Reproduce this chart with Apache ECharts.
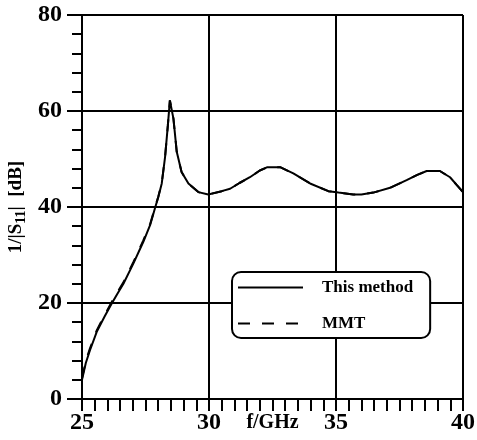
<!DOCTYPE html>
<html>
<head>
<meta charset="utf-8">
<script src="https://cdn.jsdelivr.net/npm/echarts@6/dist/echarts.min.js"></script>
<style>
  html, body { margin: 0; padding: 0; background: #fff; }
  #chart { width: 477px; height: 440px; }
</style>
</head>
<body>
<div id="chart"></div>
<script>
// frequency (GHz)
var freq = [25.0, 25.15, 25.31, 25.58, 25.9, 26.17, 26.4, 26.63, 27.02, 27.41, 27.68, 27.87, 28.0, 28.14,
  28.27, 28.38, 28.46, 28.52, 28.6, 28.73, 28.92, 29.19, 29.58, 29.97, 30.5, 30.83, 31.2, 31.61, 32.0,
  32.3, 32.8, 33.32, 33.98, 34.7, 35.1, 35.68, 36.0, 36.47, 37.13, 37.78, 38.2, 38.57, 39.09, 39.49,
  39.75, 40.0];
// 1/|S11| in dB, this method
var thisMethod = [4.0, 7.5, 10.1, 14.0, 17.3, 19.9, 22.0, 24.0, 28.2, 32.7, 36.2, 39.7, 42.0, 44.9,
  50.4, 57.0, 62.2, 62.2, 58.4, 51.5, 47.3, 44.9, 43.1, 42.6, 43.3, 43.8, 45.0, 46.2, 47.6,
  48.3, 48.3, 47.0, 44.9, 43.3, 43.0, 42.6, 42.6, 43.0, 44.0, 45.6, 46.7, 47.5, 47.5, 46.2,
  44.6, 43.1];
// MMT
var mmt = [4.3, 7.9, 10.5, 14.3, 17.6, 20.2, 22.3, 24.3, 28.5, 33.0, 36.4, 39.8, 42.1, 45.0,
  50.4, 57.0, 62.2, 62.2, 58.4, 51.5, 47.3, 44.9, 43.1, 42.6, 43.3, 43.8, 45.0, 46.2, 47.6,
  48.3, 48.3, 47.0, 44.9, 43.3, 43.0, 42.6, 42.6, 43.0, 44.0, 45.6, 46.7, 47.5, 47.5, 46.2,
  44.6, 43.1];

function pairs(xs, ys) {
  var out = [];
  for (var i = 0; i < xs.length; i++) out.push([xs[i], ys[i]]);
  return out;
}

var serif = "'Liberation Serif', 'DejaVu Serif', serif";
var myChart = echarts.init(document.getElementById("chart"));
var option = {
  animation: false,
  backgroundColor: "#fff",
  grid: { left: 82, right: 14, top: 15, bottom: 41, containLabel: false, outerBoundsMode: "none" },
  legend: {
    left: 232,
    top: 272,
    orient: "vertical",
    itemWidth: 65,
    itemHeight: 14,
    itemGap: 19,
    padding: [7, 17, 6, 5],
    backgroundColor: "#fff",
    borderColor: "#000",
    borderWidth: 2,
    borderRadius: 9,
    itemStyle: { opacity: 0 },
    data: ["This method", "MMT"],
    textStyle: { fontFamily: serif, fontWeight: "bold", fontSize: 17, color: "#000", padding: [0, 0, 0, 14] },
  },
  xAxis: {
    type: "value",
    min: 25,
    max: 40,
    interval: 5,
    name: "f/GHz",
    nameLocation: "middle",
    nameGap: 14,
    nameMoveOverlap: false,
    nameTextStyle: { fontFamily: serif, fontWeight: "bold", fontSize: 20, color: "#000", verticalAlign: "top" },
    axisLine: { lineStyle: { color: "#000", width: 2 } },
    axisTick: { inside: false, length: 12, lineStyle: { color: "#000", width: 2 } },
    minorTick: { show: true, splitNumber: 10, length: 12, lineStyle: { color: "#000", width: 2 } },
    splitLine: { show: true, lineStyle: { color: "#000", width: 2 } },
    axisLabel: { margin: 12, fontFamily: serif, fontWeight: "bold", fontSize: 24, color: "#000",
      showMinLabel: true, showMaxLabel: true },
  },
  yAxis: {
    type: "value",
    min: 0,
    max: 80,
    interval: 20,
    name: "{n|1/|S}{s|11}{n||  [dB]}",
    nameLocation: "middle",
    nameGap: 54,
    nameMoveOverlap: false,
    nameTextStyle: {
      rich: {
        n: { fontFamily: serif, fontWeight: "bold", fontSize: 19, color: "#000" },
        s: { fontFamily: serif, fontWeight: "bold", fontSize: 14, color: "#000", padding: [10, 0, 0, 0] },
      },
    },
    axisLine: { lineStyle: { color: "#000", width: 2 } },
    axisTick: { inside: false, length: 15, lineStyle: { color: "#000", width: 2 } },
    minorTick: { show: true, splitNumber: 5, length: 10, lineStyle: { color: "#000", width: 2 } },
    splitLine: { show: true, lineStyle: { color: "#000", width: 2 } },
    axisLabel: { margin: 20, fontFamily: serif, fontWeight: "bold", fontSize: 24, color: "#000" },
  },
  series: [
    {
      name: "MMT",
      type: "line",
      symbol: "none",
      data: pairs(freq, mmt),
      lineStyle: { color: "#000", width: 2, type: [12, 12] },
      itemStyle: { color: "#000" },
    },
    {
      name: "This method",
      type: "line",
      symbol: "none",
      data: pairs(freq, thisMethod),
      lineStyle: { color: "#000", width: 2 },
      itemStyle: { color: "#000" },
    },
  ],
};
option && myChart.setOption(option);
</script>
</body>
</html>
